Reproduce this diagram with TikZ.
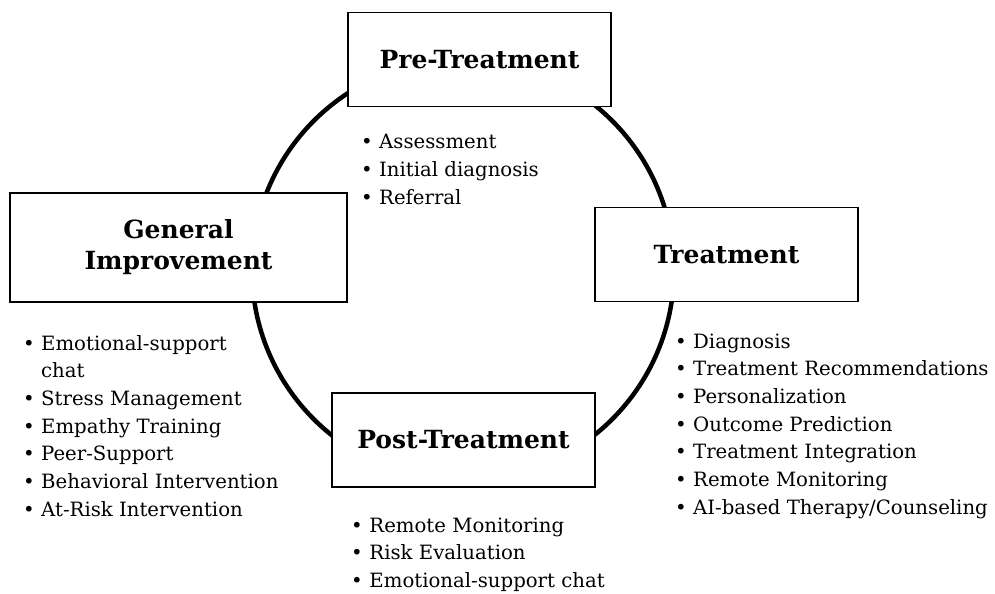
\documentclass[tikz,border=0pt]{standalone}
\usepackage{fontspec}
\setmainfont{DejaVu Serif}
\newcommand{\bulletmark}[1][18bp]{\makebox[#1][l]{\textbullet}}

\begin{document}
\begin{tikzpicture}[x=1bp,y=-1bp,
    phase/.style={draw,line width=1.6bp,fill=white,inner sep=0pt,align=center,
      minimum width=263bp,minimum height=94bp,
      font=\fontsize{25bp}{31bp}\selectfont\bfseries},
    items/.style={anchor=base west,inner sep=0pt,
      font=\fontsize{19.7bp}{27.7bp}\selectfont}]
  \useasboundingbox (0,0) rectangle (995,594);
  \coordinate (hub) at (463,270);
  \draw[line width=4.5bp] (hub) circle[radius=211];
  \node[phase] (pre) at (479.5,59.5) {Pre-Treatment};
  \node[phase] (treat) at (726.5,254.5) {Treatment};
  \node[phase] (post) at (463.5,440) {Post-Treatment};
  \node[phase,minimum width=337bp,minimum height=109bp] (general) at (178.5,247.5)
    {General\\Improvement};
  \node[items] (prelist) at (361,149) {\begin{tabular}[t]{@{}l@{}}
      \bulletmark Assessment\\
      \bulletmark Initial diagnosis\\
      \bulletmark Referral
    \end{tabular}};
  \node[items] (treatlist) at (675,348) {\begin{tabular}[t]{@{}l@{}}
      \bulletmark Diagnosis\\
      \bulletmark Treatment Recommendations\\
      \bulletmark Personalization\\
      \bulletmark Outcome Prediction\\
      \bulletmark Treatment Integration\\
      \bulletmark Remote Monitoring\\
      \bulletmark AI-based Therapy/Counseling
    \end{tabular}};
  \node[items] (postlist) at (351,532) {\begin{tabular}[t]{@{}l@{}}
      \bulletmark[12bp] Remote Monitoring\\
      \bulletmark[12bp] Risk Evaluation\\
      \bulletmark[12bp] Emotional-support chat
    \end{tabular}};
  \node[items] (generallist) at (23,350) {\begin{tabular}[t]{@{}l@{}}
      \bulletmark Emotional-support\\
      \hspace{18bp}chat\\
      \bulletmark Stress Management\\
      \bulletmark Empathy Training\\
      \bulletmark Peer-Support\\
      \bulletmark Behavioral Intervention\\
      \bulletmark At-Risk Intervention
    \end{tabular}};
\end{tikzpicture}
\end{document}
